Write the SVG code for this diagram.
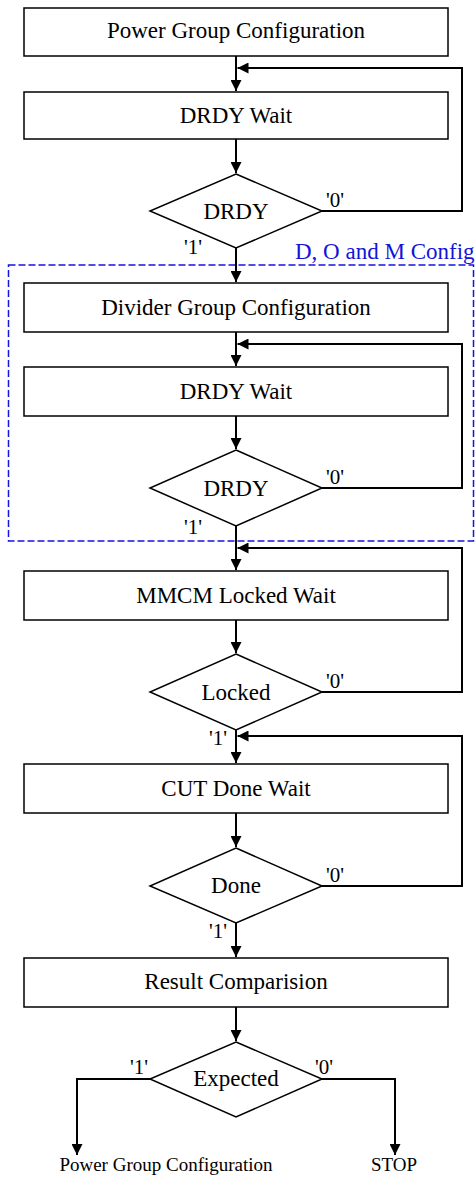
<svg xmlns="http://www.w3.org/2000/svg" width="476" height="1177" viewBox="0 0 476 1177">
<style>
.box{fill:#fff;stroke:#000;stroke-width:1.5}
.dia{fill:#fff;stroke:#000;stroke-width:1.5}
.t{font-family:"Liberation Serif","Times New Roman",serif;font-size:23px;fill:#000;text-anchor:middle}
.lb{font-family:"Liberation Serif","Times New Roman",serif;font-size:21px;fill:#000}
.sm{font-family:"Liberation Serif","Times New Roman",serif;font-size:19px;fill:#000;text-anchor:middle}
.c{fill:none;stroke:#000;stroke-width:2;marker-end:url(#ah)}
.grp{fill:none;stroke:#1414e0;stroke-width:1.5;stroke-dasharray:7 3}
.gt{font-family:"Liberation Serif","Times New Roman",serif;font-size:23px;fill:#1414d8}
</style>
<defs>
<marker id="ah" markerUnits="userSpaceOnUse" markerWidth="11" markerHeight="11" refX="11" refY="5.5" orient="auto">
<path d="M0,0 L11,5.5 L0,11 z" fill="#000"/>
</marker>
</defs>
<rect width="476" height="1177" fill="#fff"/>

<g id="group-DOM">
<rect class="grp" x="8.5" y="265" width="465" height="276"/>
<text class="gt" x="295" y="259">D, O and M Config</text>
</g>

<g id="connectors">
<path class="c" d="M236,56 V91"/>
<path class="c" d="M236,139 V173"/>
<path class="c" d="M236,248 V282"/>
<path class="c" d="M236,332 V366"/>
<path class="c" d="M236,416 V449"/>
<path class="c" d="M236,526 V570"/>
<path class="c" d="M236,620 V653"/>
<path class="c" d="M236,730 V763"/>
<path class="c" d="M236,813 V847"/>
<path class="c" d="M236,923 V957"/>
<path class="c" d="M236,1007 V1041"/>
<path class="c" d="M322,211 H462 V68 H237.5"/>
<path class="c" d="M322,488 H462 V344 H237.5"/>
<path class="c" d="M322,692 H462 V548 H237.5"/>
<path class="c" d="M322,886 H462 V736 H237.5"/>
<path class="c" d="M150,1079 H77 V1155"/>
<path class="c" d="M322,1079 H395 V1155"/>
<text class="lb" x="326" y="207">'0'</text>
<text class="lb" x="184" y="254">'1'</text>
<text class="lb" x="326" y="484">'0'</text>
<text class="lb" x="184" y="534">'1'</text>
<text class="lb" x="326" y="688">'0'</text>
<text class="lb" x="209" y="745">'1'</text>
<text class="lb" x="326" y="882">'0'</text>
<text class="lb" x="209" y="938">'1'</text>
<text class="lb" x="130" y="1074">'1'</text>
<text class="lb" x="315" y="1074">'0'</text>
</g>

<g id="n-power">
<rect class="box" x="24" y="8" width="424" height="48"/>
<text class="t" x="236" y="38">Power Group Configuration</text>
</g>
<g id="n-drdywait1">
<rect class="box" x="24" y="92" width="424" height="47"/>
<text class="t" x="236" y="123">DRDY Wait</text>
</g>
<g id="n-drdy1">
<polygon class="dia" points="236,174 322,211 236,248 150,211"/>
<text class="t" x="236" y="219">DRDY</text>
</g>
<g id="n-divider">
<rect class="box" x="24" y="283" width="424" height="49"/>
<text class="t" x="236" y="315">Divider Group Configuration</text>
</g>
<g id="n-drdywait2">
<rect class="box" x="24" y="367" width="424" height="49"/>
<text class="t" x="236" y="399">DRDY Wait</text>
</g>
<g id="n-drdy2">
<polygon class="dia" points="236,450 322,488 236,526 150,488"/>
<text class="t" x="236" y="496">DRDY</text>
</g>
<g id="n-mmcm">
<rect class="box" x="24" y="571" width="424" height="49"/>
<text class="t" x="236" y="603">MMCM Locked Wait</text>
</g>
<g id="n-locked">
<polygon class="dia" points="236,654 322,692 236,730 150,692"/>
<text class="t" x="236" y="700">Locked</text>
</g>
<g id="n-cut">
<rect class="box" x="24" y="764" width="424" height="49"/>
<text class="t" x="236" y="796">CUT Done Wait</text>
</g>
<g id="n-done">
<polygon class="dia" points="236,848 322,886 236,923 150,886"/>
<text class="t" x="236" y="893">Done</text>
</g>
<g id="n-result">
<rect class="box" x="24" y="958" width="424" height="49"/>
<text class="t" x="236" y="989">Result Comparision</text>
</g>
<g id="n-expected">
<polygon class="dia" points="236,1042 322,1079 236,1117 150,1079"/>
<text class="t" x="236" y="1086">Expected</text>
</g>
<g id="n-end-power">
<text class="sm" x="166" y="1171">Power Group Configuration</text>
</g>
<g id="n-stop">
<text class="sm" x="394" y="1171">STOP</text>
</g>
</svg>
